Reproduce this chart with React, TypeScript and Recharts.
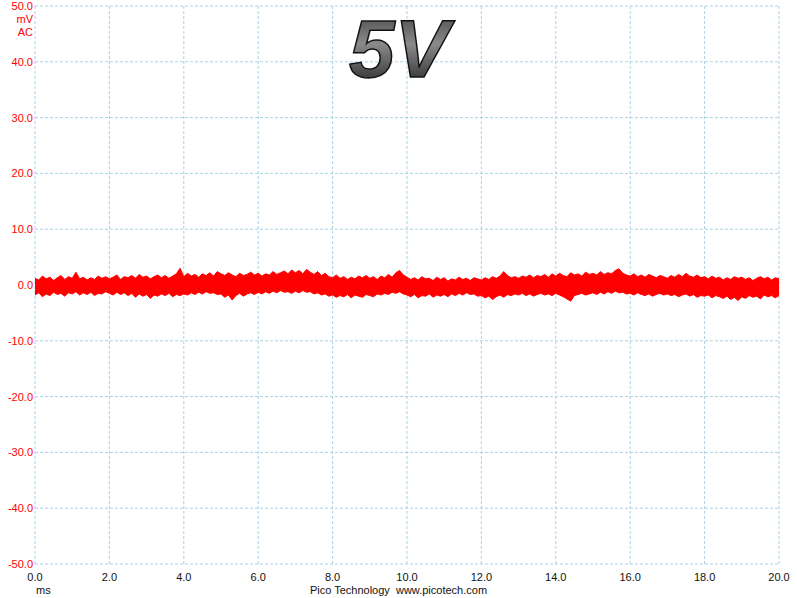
import { AreaChart, Area, XAxis, YAxis, CartesianGrid } from 'recharts'

// time axis in ms, one sample every 0.1 ms
const times = Array.from({ length: 201 }, (_, i) => Math.round(i) / 10)

// upper edge of the noise band (mV)
const upper = [
  1.2, 0.9, 1.6, 1.1, 1.4, 0.8, 1.3, 1.7, 1.0, 1.5,
  1.2, 2.3, 1.1, 1.4, 0.9, 1.3, 1.0, 1.6, 1.2, 1.5,
  1.1, 1.4, 1.8, 1.0, 1.5, 1.3, 1.7, 1.2, 1.9, 1.4,
  1.6, 1.1, 1.5, 1.8, 1.3, 1.7, 1.2, 1.6, 2.0, 3.0,
  1.5, 2.1, 1.6, 1.9, 1.4, 2.0, 1.7, 2.2, 1.6, 2.4,
  2.0, 1.7, 2.2, 1.8, 1.5, 2.1, 1.7, 1.9, 2.3, 1.8,
  2.1, 1.6, 2.0, 1.8, 2.4, 1.9, 2.2, 2.5, 2.0, 2.7,
  2.2, 2.6, 2.0, 2.8, 2.3, 1.9, 2.4, 1.7, 2.1, 1.5,
  1.3, 1.8, 1.2, 1.5, 1.0, 1.4, 1.1, 1.6, 1.3, 1.7,
  1.2, 1.5, 1.0, 1.6, 1.3, 1.9, 1.4, 2.2, 2.6, 1.8,
  1.4, 1.0, 1.3, 0.9, 1.5, 1.1, 1.2, 0.8, 1.4, 1.0,
  1.3, 0.7, 1.1, 0.9, 1.4, 1.0, 1.2, 0.8, 1.3, 1.1,
  0.9, 1.3, 1.0, 1.5, 1.2, 1.6, 2.4, 1.7, 1.3, 1.5,
  1.2, 1.6, 1.4, 1.8, 1.3, 1.7, 1.5, 1.9, 1.4, 2.0,
  1.6, 2.1, 1.7, 1.5, 2.2, 1.8, 2.0, 1.6, 2.3, 1.9,
  2.1, 1.8, 2.4, 1.9, 2.2, 2.0, 2.6, 2.9, 2.1, 1.8,
  1.6, 2.0, 1.5, 1.8, 1.4, 1.9, 1.6, 1.3, 1.7, 1.5,
  1.2, 1.7, 1.4, 1.9, 1.5, 2.1, 1.6, 1.4, 1.8, 1.3,
  1.5, 1.1, 1.6, 1.2, 1.4, 0.9, 1.3, 1.0, 1.5, 1.2,
  1.4, 1.0, 1.3, 0.8, 1.2, 1.5, 1.1, 1.4, 0.9, 1.3,
  1.1,
]

// lower edge of the noise band (mV)
const lower = [
  -1.8, -1.4, -2.1, -1.6, -1.9, -1.3, -1.7, -1.5, -2.0, -1.4,
  -1.6, -1.2, -1.8, -1.4, -1.7, -1.3, -1.9, -1.5, -1.6, -1.2,
  -1.5, -1.8, -1.3, -1.7, -1.4, -1.9, -1.5, -2.2, -1.6, -2.0,
  -1.7, -2.4, -1.8, -2.0, -1.6, -1.9, -1.5, -2.1, -1.7, -1.9,
  -1.6, -1.8, -1.4, -1.7, -1.3, -1.6, -1.2, -1.5, -1.4, -1.7,
  -1.6, -2.2, -1.8, -2.7, -1.9, -1.5, -2.0, -1.6, -1.4, -1.7,
  -1.3, -1.6, -1.2, -1.5, -1.1, -1.4, -1.0, -1.3, -1.2, -1.5,
  -1.1, -1.4, -1.0, -1.3, -1.2, -1.6, -1.4, -1.8, -1.6, -2.0,
  -1.8, -2.2, -1.9, -2.1, -1.7, -2.3, -1.8, -2.0, -2.2, -1.7,
  -1.9, -2.1, -1.6, -1.8, -1.5, -1.7, -1.3, -1.5, -1.2, -1.6,
  -1.8, -2.1, -1.7, -2.3, -1.9, -2.0, -1.6, -2.2, -1.8, -2.0,
  -1.7, -2.1, -1.6, -1.9, -1.5, -1.8, -1.4, -1.7, -1.6, -2.0,
  -1.9, -2.3, -2.0, -2.6, -2.1, -1.8, -2.2, -1.7, -1.9, -1.6,
  -1.8, -1.5, -1.9, -1.6, -2.0, -1.7, -1.5, -1.8, -1.6, -1.9,
  -1.5, -1.8, -2.1, -2.5, -2.9, -1.9, -1.7, -1.5, -1.8, -1.6,
  -1.4, -1.7, -1.3, -1.6, -1.2, -1.5, -1.1, -1.4, -1.3, -1.6,
  -1.5, -1.8, -1.4, -1.7, -1.9, -1.6, -2.0, -1.7, -1.5, -1.8,
  -1.6, -1.9, -1.7, -2.1, -1.8, -1.6, -2.0, -1.7, -2.2, -1.9,
  -2.0, -1.8, -2.3, -1.9, -2.1, -2.4, -2.0, -2.6, -2.2, -2.8,
  -2.1, -2.4, -1.9, -2.2, -2.0, -2.5, -1.8, -2.1, -1.9, -2.3,
  -1.9,
]

const xTicks = [0, 2, 4, 6, 8, 10, 12, 14, 16, 18, 20]
const yTicks = [-50, -40, -30, -20, -10, 0, 10, 20, 30, 40, 50]

const data = times.map((t, i) => ({ t, band: [lower[i], upper[i]] }))

const FONT = '"Liberation Sans", Arial, sans-serif'
const GRID = '#a9d3e4'

export default function App() {
  return (
    <div style={{ position: 'fixed', left: 0, top: 0, width: 797, height: 598, background: '#fff', fontFamily: FONT }}>
      <AreaChart width={797} height={598} data={data} margin={{ top: 6, right: 18, bottom: 0, left: 0 }}>
        <CartesianGrid stroke={GRID} strokeDasharray="3 2" horizontalValues={yTicks} verticalValues={xTicks} />
        <XAxis
          dataKey="t"
          type="number"
          domain={[0, 20]}
          ticks={xTicks}
          tickFormatter={(v) => Number(v).toFixed(1)}
          axisLine={false}
          tickLine={false}
          tickSize={6}
          tickMargin={3}
          height={34}
          tick={{ fill: '#111', fontSize: 11, fontFamily: FONT }}
        />
        <YAxis
          type="number"
          domain={[-50, 50]}
          ticks={yTicks}
          tickFormatter={(v) => Number(v).toFixed(1)}
          axisLine={false}
          tickLine={false}
          tickSize={2}
          tickMargin={0}
          width={35}
          interval={0}
          tick={{ fill: '#ff0000', fontSize: 11, fontFamily: FONT }}
        />
        <Area
          dataKey="band"
          type="linear"
          stroke="#ff0000"
          strokeWidth={1}
          fill="#ff0000"
          fillOpacity={1}
          dot={false}
          activeDot={false}
          isAnimationActive={false}
        />
      </AreaChart>

      <div style={{ position: 'absolute', right: 797 - 33, top: 13, color: '#ff0000', fontSize: 11, textAlign: 'right', lineHeight: '13px' }}>
        mV<br />AC
      </div>
      <div style={{ position: 'absolute', left: 36, top: 584, color: '#111', fontSize: 11 }}>ms</div>
      <div style={{ position: 'absolute', left: 0, width: 797, textAlign: 'center', top: 584, color: '#111', fontSize: 11, whiteSpace: 'pre' }}>
        {'Pico Technology  www.picotech.com'}
      </div>

      <svg width={797} height={100} style={{ position: 'absolute', left: 0, top: 0, pointerEvents: 'none' }}>
        <defs>
          <linearGradient id="fiveV" x1="0" y1="0" x2="0" y2="1">
            <stop offset="0" stopColor="#3a3a3a" />
            <stop offset="0.45" stopColor="#8a8a8a" />
            <stop offset="1" stopColor="#1a1a1a" />
          </linearGradient>
        </defs>
        <text
          x={349}
          y={77}
          fontSize={82}
          fontWeight="bold"
          fontStyle="italic"
          fontFamily={FONT}
          fill="url(#fiveV)"
          stroke="#111"
          strokeWidth={1.5}
        >
          5V
        </text>
      </svg>
    </div>
  )
}
